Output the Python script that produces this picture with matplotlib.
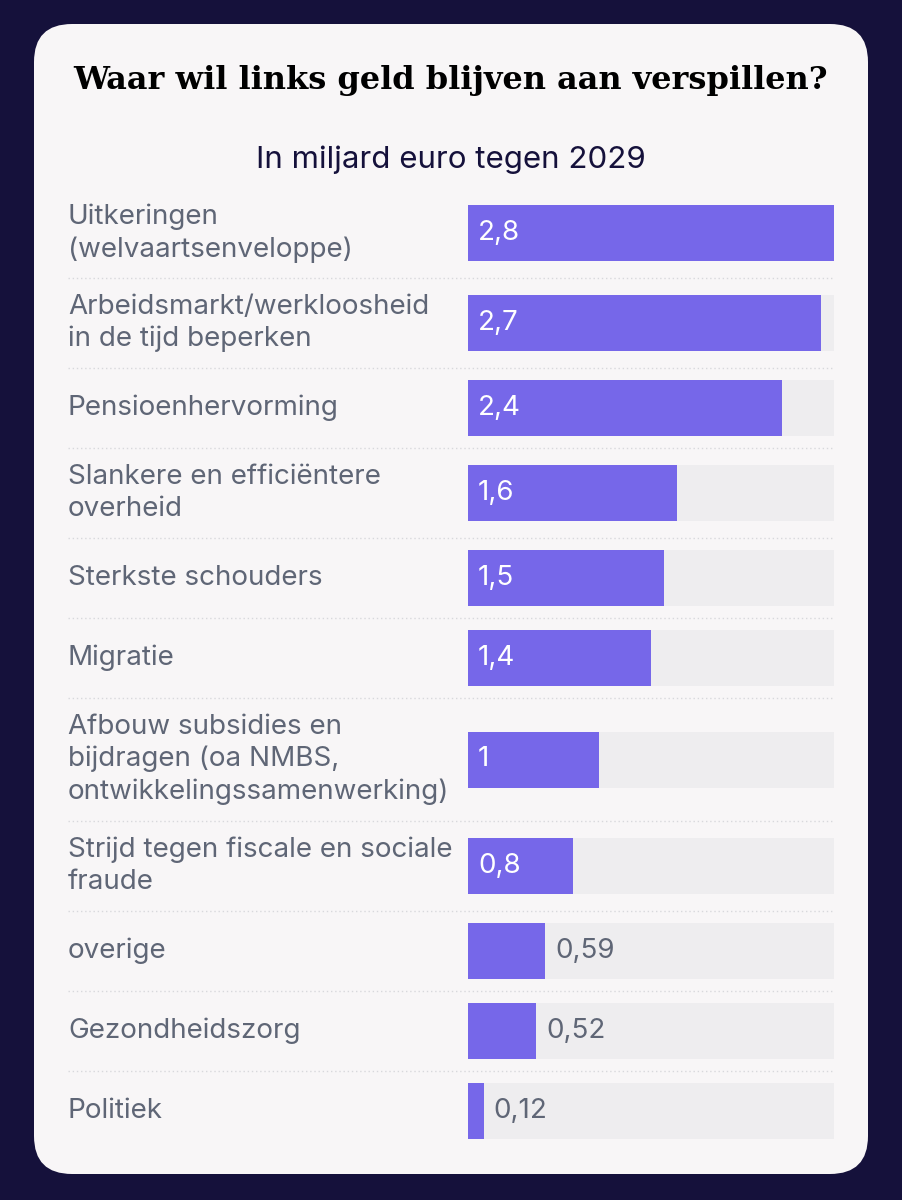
import matplotlib.pyplot as plt
from matplotlib.patches import FancyBboxPatch
import matplotlib.transforms as mtransforms

# Data
categories = [
    "Uitkeringen\n(welvaartsenveloppe)",
    "Arbeidsmarkt/werkloosheid\nin de tijd beperken",
    "Pensioenhervorming",
    "Slankere en efficiëntere\noverheid",
    "Sterkste schouders",
    "Migratie",
    "Afbouw subsidies en\nbijdragen (oa NMBS,\nontwikkelingssamenwerking)",
    "Strijd tegen fiscale en sociale\nfraude",
    "overige",
    "Gezondheidszorg",
    "Politiek",
]
values = [2.8, 2.7, 2.4, 1.6, 1.5, 1.4, 1.0, 0.8, 0.59, 0.52, 0.12]
value_labels = ["2,8", "2,7", "2,4", "1,6", "1,5", "1,4", "1", "0,8", "0,59", "0,52", "0,12"]
max_value = 2.8

title = "Waar wil links geld blijven aan verspillen?"
subtitle = "In miljard euro tegen 2029"

# Colours
NAVY = "#15113b"
CARD = "#f8f6f7"
BAR = "#7667e9"
TRACK = "#eeedef"
GREY = "#5f6676"

W, H = 902, 1200
fig = plt.figure(figsize=(W / 100, H / 100), dpi=100)
fig.patch.set_facecolor(NAVY)

# background card (pixel coordinates)
bg = fig.add_axes([0, 0, 1, 1])
bg.set_xlim(0, W)
bg.set_ylim(H, 0)
bg.axis("off")
card = FancyBboxPatch((34, 24), 834, 1150, boxstyle="round,pad=0,rounding_size=38",
                      facecolor=CARD, edgecolor="none")
bg.add_patch(card)

bg.text(W / 2, 80, title, ha="center", va="center", fontsize=23,
        fontfamily="DejaVu Serif", fontweight="bold", color="black")
bg.text(W / 2, 160, subtitle, ha="center", va="center", fontsize=22.5,
        fontfamily="Inter", color=NAVY)

# row layout from number of label lines
bar_h = 56
tops, centers = [], []
y = 188
for c in categories:
    n = c.count("\n") + 1
    h = max(bar_h, 33 * n) + 24
    tops.append(y)
    centers.append(y + h / 2)
    y += h

# bar axes: x in data units, y in pixel units
x0, x1 = 468, 834
ax = fig.add_axes([x0 / W, 0, (x1 - x0) / W, 1])
ax.set_xlim(0, max_value)
ax.set_ylim(H, 0)
ax.axis("off")

ax.barh(centers, [max_value] * len(values), height=bar_h, color=TRACK, zorder=1)
ax.barh(centers, values, height=bar_h, color=BAR, zorder=2)

offset = mtransforms.offset_copy(ax.transData, fig=fig, x=10, y=0, units="dots")
for yc, v, lab in zip(centers, values, value_labels):
    if v >= 0.7:
        ax.text(0, yc, lab, transform=offset, ha="left", va="center",
                fontsize=20, fontfamily="Inter", color="white", zorder=3)
    else:
        ax.text(v, yc, lab, transform=offset, ha="left", va="center",
                fontsize=20, fontfamily="Inter", color=GREY, zorder=3)

# category labels and dotted separators
for i, (yc, c) in enumerate(zip(centers, categories)):
    bg.text(68, yc, c, ha="left", va="center", fontsize=20, fontfamily="Inter",
            color=GREY, linespacing=1.3)
    if i > 0:
        bg.plot([68, 834], [tops[i], tops[i]], color="#d8d8dc", lw=1,
                linestyle=(0, (1, 2)))

fig.savefig("out.png", dpi=100, facecolor=NAVY)
